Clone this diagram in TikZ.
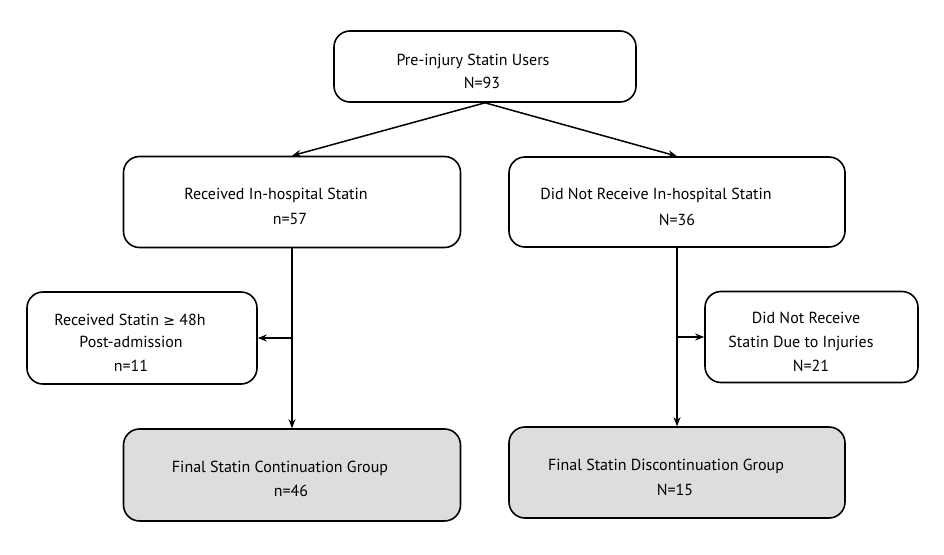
\documentclass[tikz,border=0pt]{standalone}
\usepackage{fontspec}
\setmainfont{PT Sans}
\newfontfamily\symfnt{DejaVu Sans}
\usetikzlibrary{arrows.meta}
\tikzset{
  box/.style={draw, line width=1.6pt, rounded corners=16pt, inner sep=0pt},
  graybox/.style={box, fill=gray!27},
  lbl/.style={inner sep=0pt, font=\fontsize{16}{19}\selectfont},
  conn/.style={line width=1.5pt, -{Stealth[length=9pt,width=7pt]}}
}
\begin{document}
\begin{tikzpicture}[x=1pt,y=-1pt]
\useasboundingbox (0,0) rectangle (944,554);
% boxes
\node[box, minimum width=302pt, minimum height=71pt] (top) at (485,66.5) {};
\node[box, minimum width=337pt, minimum height=91pt] (l2) at (292,202) {};
\node[box, minimum width=336pt, minimum height=90pt] (r2) at (677,202) {};
\node[box, minimum width=230pt, minimum height=92pt] (ls) at (142,338) {};
\node[box, minimum width=213pt, minimum height=91pt] (rs) at (811.5,337) {};
\node[graybox, minimum width=337pt, minimum height=92pt] (bl) at (292,475) {};
\node[graybox, minimum width=336pt, minimum height=91pt] (br) at (677,472.5) {};
% texts
\node[lbl] (t1) at (473,61) {Pre-injury Statin Users};
\node[lbl] (t2) at (482,83) {N=93};
\node[lbl] (l2a) at (276,195) {Received In-hospital Statin};
\node[lbl] (l2b) at (290,219) {n=57};
\node[lbl] (r2a) at (656,195) {Did Not Receive In-hospital Statin};
\node[lbl] (r2b) at (677,220) {N=36};
\node[lbl] (lsa) at (130,320) {Received Statin {\symfnt\fontsize{14}{16}\selectfont ≥} 48h};
\node[lbl] (lsb) at (131,342) {Post-admission};
\node[lbl] (lsc) at (131,366) {n=11};
\node[lbl] (rsa) at (806,318) {Did Not Receive};
\node[lbl] (rsb) at (801,343) {Statin Due to Injuries};
\node[lbl] (rsc) at (811,366) {N=21};
\node[lbl] (bla) at (280,468) {Final Statin Continuation Group};
\node[lbl] (blb) at (291,491) {n=46};
\node[lbl] (bra) at (666,466) {Final Statin Discontinuation Group};
\node[lbl] (brb) at (675,490) {N=15};
% connectors
\coordinate (lj) at (l2.south |- ls.east);
\coordinate (rj) at (r2.south |- rs.west);
\draw[conn] (top.south) -- (l2.north);
\draw[conn] (top.south) -- (r2.north);
\draw[conn] (l2.south) -- (bl.north);
\draw[conn] (r2.south) -- (br.north);
\draw[conn] (lj) -- (ls.east);
\draw[conn] (rj) -- (rs.west);
\end{tikzpicture}
\end{document}
